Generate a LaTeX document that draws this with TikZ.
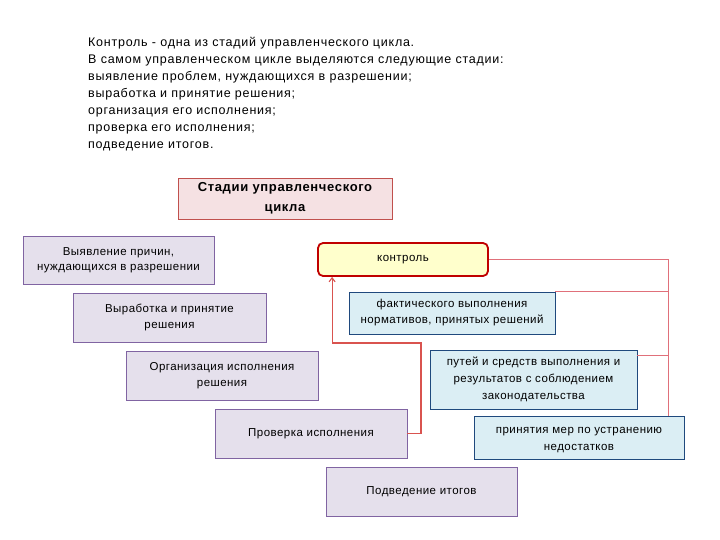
\documentclass[tikz,border=0pt]{standalone}
\usepackage{fontspec}
\setmainfont{Liberation Sans}
\newfontfamily\introfont[LetterSpace=6]{Liberation Sans}
\newfontfamily\boxfont[LetterSpace=4]{Liberation Sans}
\newfontfamily\titlefont[LetterSpace=5]{Liberation Sans}
\usetikzlibrary{arrows.meta}
\definecolor{lavfill}{HTML}{E5E0EC}
\definecolor{lavline}{HTML}{8064A2}
\definecolor{bluefill}{HTML}{DBEEF4}
\definecolor{blueline}{HTML}{1F497D}
\definecolor{pinkfill}{HTML}{F5E1E3}
\definecolor{pinkline}{HTML}{C0504D}
\definecolor{ylwfill}{HTML}{FFFFCC}
\definecolor{ktrlline}{HTML}{C00000}
\definecolor{connred}{HTML}{D9534F}
\definecolor{connlight}{HTML}{E0707A}
\begin{document}
\begin{tikzpicture}[x=1pt,y=-1pt,
  stagebox/.style={draw=lavline,fill=lavfill,line width=0.8pt,align=center,inner sep=2pt,font=\boxfont\fontsize{11.5}{16}\selectfont},
  infobox/.style={draw=blueline,fill=bluefill,line width=0.8pt,align=center,inner sep=2pt,font=\boxfont\fontsize{11.5}{17}\selectfont},
  conn/.style={draw=connred,line width=0.9pt}]
\useasboundingbox (0,0) rectangle (720,540);
\fill[white] (0,0) rectangle (720,540);
\node[anchor=north west,align=left,inner sep=0pt,font=\introfont\fontsize{12.5}{17}\selectfont] (intro) at (88,37)
 {Контроль - одна из стадий управленческого цикла.\\
  В самом управленческом цикле выделяются следующие стадии:\\
  выявление проблем, нуждающихся в разрешении;\\
  выработка и принятие решения;\\
  организация его исполнения;\\
  проверка его исполнения;\\
  подведение итогов.};
\node[draw=pinkline,fill=pinkfill,line width=0.8pt,align=center,minimum width=214pt,minimum height=41pt,inner sep=1pt,font=\titlefont\bfseries\fontsize{13}{20}\selectfont] (title) at (285,198.5) {Стадии управленческого\\цикла};
\node[stagebox,minimum width=191pt,minimum height=48pt,font=\boxfont\fontsize{11.5}{14.5}\selectfont] (s1) at (118.5,260) {Выявление причин,\\нуждающихся в разрешении};
\node[stagebox,minimum width=193pt,minimum height=49pt] (s2) at (169.5,317.5) {Выработка и принятие\\решения};
\node[stagebox,minimum width=192pt,minimum height=49pt] (s3) at (222,375.5) {Организация исполнения\\решения};
\node[stagebox,minimum width=192pt,minimum height=49pt] (s4) at (311,433.5) {Проверка исполнения};
\node[stagebox,minimum width=191pt,minimum height=49pt] (s5) at (421.5,491.5) {Подведение итогов};
\node[draw=ktrlline,fill=ylwfill,line width=1.8pt,rounded corners=5pt,minimum width=170pt,minimum height=33pt,font=\boxfont\fontsize{11.5}{15}\selectfont] (ktrl) at (403,259.5) {контроль};
\node[infobox,minimum width=206pt,minimum height=42pt,font=\boxfont\fontsize{11.5}{16}\selectfont] (b1) at (452,313) {фактического выполнения\\нормативов, принятых решений};
\node[infobox,minimum width=207pt,minimum height=59pt] (b2) at (533.5,379.5) {путей и средств выполнения и\\результатов с соблюдением\\законодательства};
\node[infobox,minimum width=210pt,minimum height=43pt] (b3) at (579,437.5) {};
\node[align=center,inner sep=0pt,font=\boxfont\fontsize{11.5}{17}\selectfont] (b3text) at ([yshift=-3pt]b3.center) {принятия мер по устранению\\недостатков};
\coordinate (rv) at (668,259.5);
\draw[conn,draw=connlight] (ktrl.east) -- (rv) -- (rv |- b3.north);
\draw[conn,draw=connlight] (b1.north east) -- (b1.north east -| rv);
\draw[conn,draw=connlight] ([yshift=-6pt]b2.north east) -- ([yshift=-6pt]b2.north east -| rv);
\coordinate (lv) at (421,343);
\draw[conn,line width=1.1pt,-{Straight Barb[length=4pt,width=6pt]}] (s4.east) -| (lv) -| ([xshift=15pt]ktrl.south west);
\end{tikzpicture}
\end{document}
